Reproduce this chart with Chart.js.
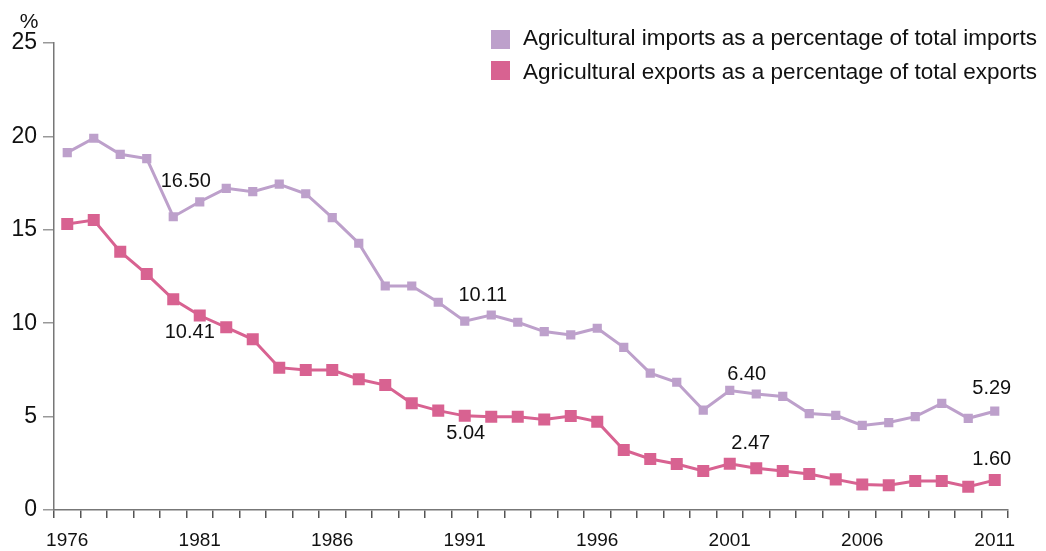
<!DOCTYPE html>
<html>
<head>
<meta charset="utf-8">
<script src="https://cdn.jsdelivr.net/npm/chart.js@4/dist/chart.umd.min.js"></script>
<style>
    html, body { margin: 0; padding: 0; background: #fff; }
    #wrap { width: 1046px; height: 551px; }
</style>
</head>
<body>
<div id="wrap"><canvas id="agriChart" width="1046" height="551"></canvas></div>
<script>
// Agricultural trade shares, 1976-2011

const years = ['1976', '1977', '1978', '1979', '1980', '1981', '1982', '1983', '1984', '1985',
    '1986', '1987', '1988', '1989', '1990', '1991', '1992', '1993', '1994', '1995',
    '1996', '1997', '1998', '1999', '2000', '2001', '2002', '2003', '2004', '2005',
    '2006', '2007', '2008', '2009', '2010', '2011'];

const importShare = [19.13, 19.90, 19.04, 18.81, 15.70, 16.50, 17.22, 17.04, 17.44, 16.93,
    15.65, 14.28, 11.99, 11.99, 11.12, 10.11, 10.44, 10.05, 9.55, 9.37,
    9.73, 8.71, 7.33, 6.84, 5.35, 6.40, 6.21, 6.08, 5.16, 5.07,
    4.53, 4.68, 5.00, 5.71, 4.91, 5.29];

const exportShare = [15.31, 15.52, 13.83, 12.63, 11.28, 10.41, 9.78, 9.14, 7.62, 7.49,
    7.49, 7.00, 6.69, 5.71, 5.32, 5.04, 4.99, 4.99, 4.85, 5.03,
    4.73, 3.21, 2.73, 2.46, 2.09, 2.47, 2.23, 2.09, 1.93, 1.64,
    1.37, 1.32, 1.55, 1.55, 1.25, 1.60];

const yTicks = [0, 5, 10, 15, 20, 25];
const labelledYears = ['1981', '1991', '2001', '2011'];

const seriesNames = [
    'Agricultural imports as a percentage of total imports',
    'Agricultural exports as a percentage of total exports'
];

const FONT = "'Liberation Sans', Arial, Helvetica, sans-serif";
const IMPORT_COLOR = '#bda0cb';
const EXPORT_COLOR = '#d86291';

// label offsets from the point: [imports, exports] per labelled year
const labelOffsets = {
    '1981': [[-14, -20], [-10, 17]],
    '1991': [[18, -26], [1, 18]],
    '2001': [[17, -16], [21, -20]],
    '2011': [[-3, -23], [-3, -21]]
};

const valueLabels = {
    id: 'valueLabels',
    afterDatasetsDraw(chart) {
        const ctx = chart.ctx;
        ctx.save();
        ctx.font = '20px ' + FONT;
        ctx.fillStyle = '#111';
        ctx.textAlign = 'center';
        ctx.textBaseline = 'middle';
        chart.data.datasets.forEach((ds, di) => {
            const meta = chart.getDatasetMeta(di);
            labelledYears.forEach(yr => {
                const idx = years.indexOf(yr);
                const pt = meta.data[idx];
                const off = labelOffsets[yr][di];
                ctx.fillText(ds.data[idx].toFixed(2), pt.x + off[0], pt.y + off[1]);
            });
        });
        ctx.restore();
    }
};

const sideLegend = {
    id: 'sideLegend',
    afterDraw(chart) {
        const ctx = chart.ctx;
        ctx.save();
        ctx.font = '22.5px ' + FONT;
        ctx.textBaseline = 'middle';
        ctx.textAlign = 'left';
        chart.data.datasets.forEach((ds, i) => {
            const top = 30 + i * 31;
            ctx.fillStyle = ds.borderColor;
            ctx.fillRect(491, top, 19, 19);
            ctx.fillStyle = '#111';
            ctx.fillText(ds.label, 523, top + 9 + i * 3);
        });
        // unit label
        ctx.font = '21px ' + FONT;
        ctx.textAlign = 'center';
        ctx.fillText('%', 29, 22);
        ctx.restore();
    }
};

const chart = new Chart(document.getElementById('agriChart').getContext('2d'), {
    type: 'line',
    data: {
        labels: years,
        datasets: [{
            label: seriesNames[0],
            data: importShare,
            borderColor: IMPORT_COLOR,
            backgroundColor: IMPORT_COLOR,
            borderWidth: 3,
            pointStyle: 'rect',
            pointRadius: 6.5,
            pointBorderWidth: 0,
            tension: 0
        }, {
            label: seriesNames[1],
            data: exportShare,
            borderColor: EXPORT_COLOR,
            backgroundColor: EXPORT_COLOR,
            borderWidth: 3,
            pointStyle: 'rect',
            pointRadius: 8.5,
            pointBorderWidth: 0,
            tension: 0
        }]
    },
    options: {
        responsive: false,
        animation: false,
        devicePixelRatio: 1,
        layout: { padding: { top: 43, right: 38, left: 0, bottom: 0 } },
        plugins: {
            legend: { display: false },
            tooltip: { enabled: false }
        },
        scales: {
            x: {
                type: 'category',
                offset: true,
                afterFit: s => { s.height = 41; },
                border: { display: true, color: '#777', width: 1.5 },
                grid: { offset: true, drawOnChartArea: false, drawTicks: true, tickLength: 8, color: '#555', lineWidth: 1.5 },
                ticks: {
                    autoSkip: false,
                    maxRotation: 0,
                    padding: 11,
                    color: '#111',
                    font: { family: FONT, size: 19 },
                    callback: function(value, index) {
                        return index % 5 === 0 ? years[index] : '';
                    }
                }
            },
            y: {
                min: 0,
                max: 25,
                afterFit: s => { s.width = 54; },
                afterBuildTicks: s => { s.ticks = yTicks.map(v => ({ value: v })); },
                border: { display: true, color: '#777', width: 1.5 },
                grid: { drawOnChartArea: false, drawTicks: true, tickLength: 11, color: '#999', lineWidth: 1.5 },
                ticks: {
                    padding: 6,
                    color: '#111',
                    font: { family: FONT, size: 23 }
                }
            }
        }
    },
    plugins: [valueLabels, sideLegend]
});
</script>
</body>
</html>
